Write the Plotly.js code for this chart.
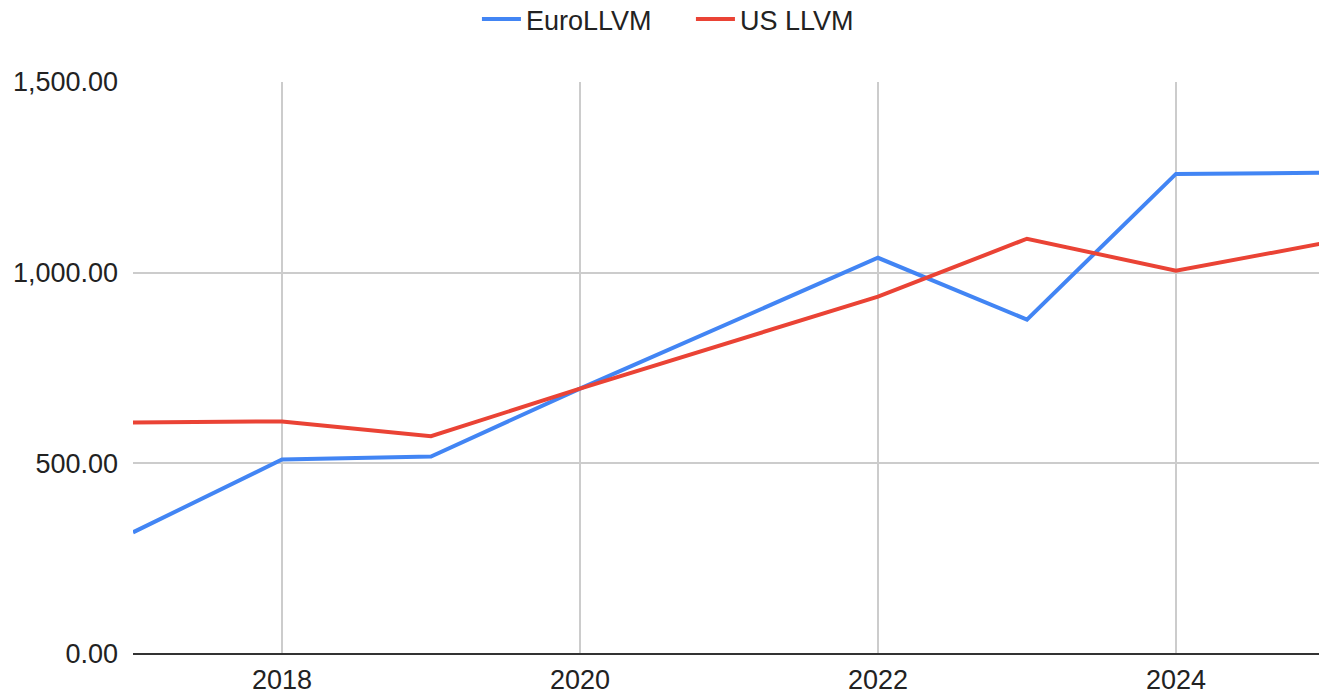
<!DOCTYPE html>
<html>
<head>
<meta charset="utf-8">
<script src="https://cdn.plot.ly/plotly-3.0.1.min.js"></script>
<style>html,body{margin:0;padding:0;background:#fff;}#chart{width:1319px;height:697px;}</style>
</head>
<body>
<div id="chart"></div>
<script>
const years = [2017, 2018, 2019, 2020, 2022, 2023, 2024, 2025];
const euroLLVM = [319, 510, 518, 696, 1039, 877, 1259, 1262];
const usLLVM = [607, 610, 571, 696, 937, 1089, 1005, 1078];
const seriesNames = ['EuroLLVM', 'US LLVM'];
const yTicks = [0, 500, 1000, 1500];
const yTickLabels = ['0.00', '500.00', '1,000.00', '1,500.00'];
const xTicks = [2018, 2020, 2022, 2024];

const font = "'Liberation Sans', Arial, sans-serif";
const traces = [
  {x: years, y: euroLLVM, name: seriesNames[0], type: 'scatter', mode: 'lines',
   line: {color: '#4285F4', width: 4}},
  {x: years, y: usLLVM, name: seriesNames[1], type: 'scatter', mode: 'lines',
   line: {color: '#EA4335', width: 4}}
];
const layout = {
  width: 1319, height: 697,
  margin: {l: 133, r: 0, t: 82, b: 43, autoexpand: false},
  paper_bgcolor: '#fff', plot_bgcolor: '#fff',
  font: {family: font, size: 27, color: '#222'},
  showlegend: true,
  legend: {orientation: 'h', x: 0.290, xanchor: 'left', y: 1.152, yanchor: 'top',
           font: {family: font, size: 27, color: '#222'}, itemwidth: 39, entrywidth: 160,
           bgcolor: 'rgba(0,0,0,0)'},
  xaxis: {range: [2017, 2024.96], tickvals: xTicks, ticktext: xTicks.map(String),
          showgrid: true, gridcolor: '#cccccc', gridwidth: 2, zeroline: false,
          showline: false, ticks: '', ticklabelstandoff: 7, fixedrange: true},
  yaxis: {range: [0, 1500], tickvals: yTicks, ticktext: yTickLabels,
          showgrid: true, gridcolor: '#cccccc', gridwidth: 2, zeroline: true,
          zerolinecolor: '#333333', zerolinewidth: 2, showline: false, ticks: '',
          ticklabelstandoff: 14, fixedrange: true}
};
Plotly.newPlot('chart', traces, layout, {displayModeBar: false, staticPlot: true});
</script>
</body>
</html>
